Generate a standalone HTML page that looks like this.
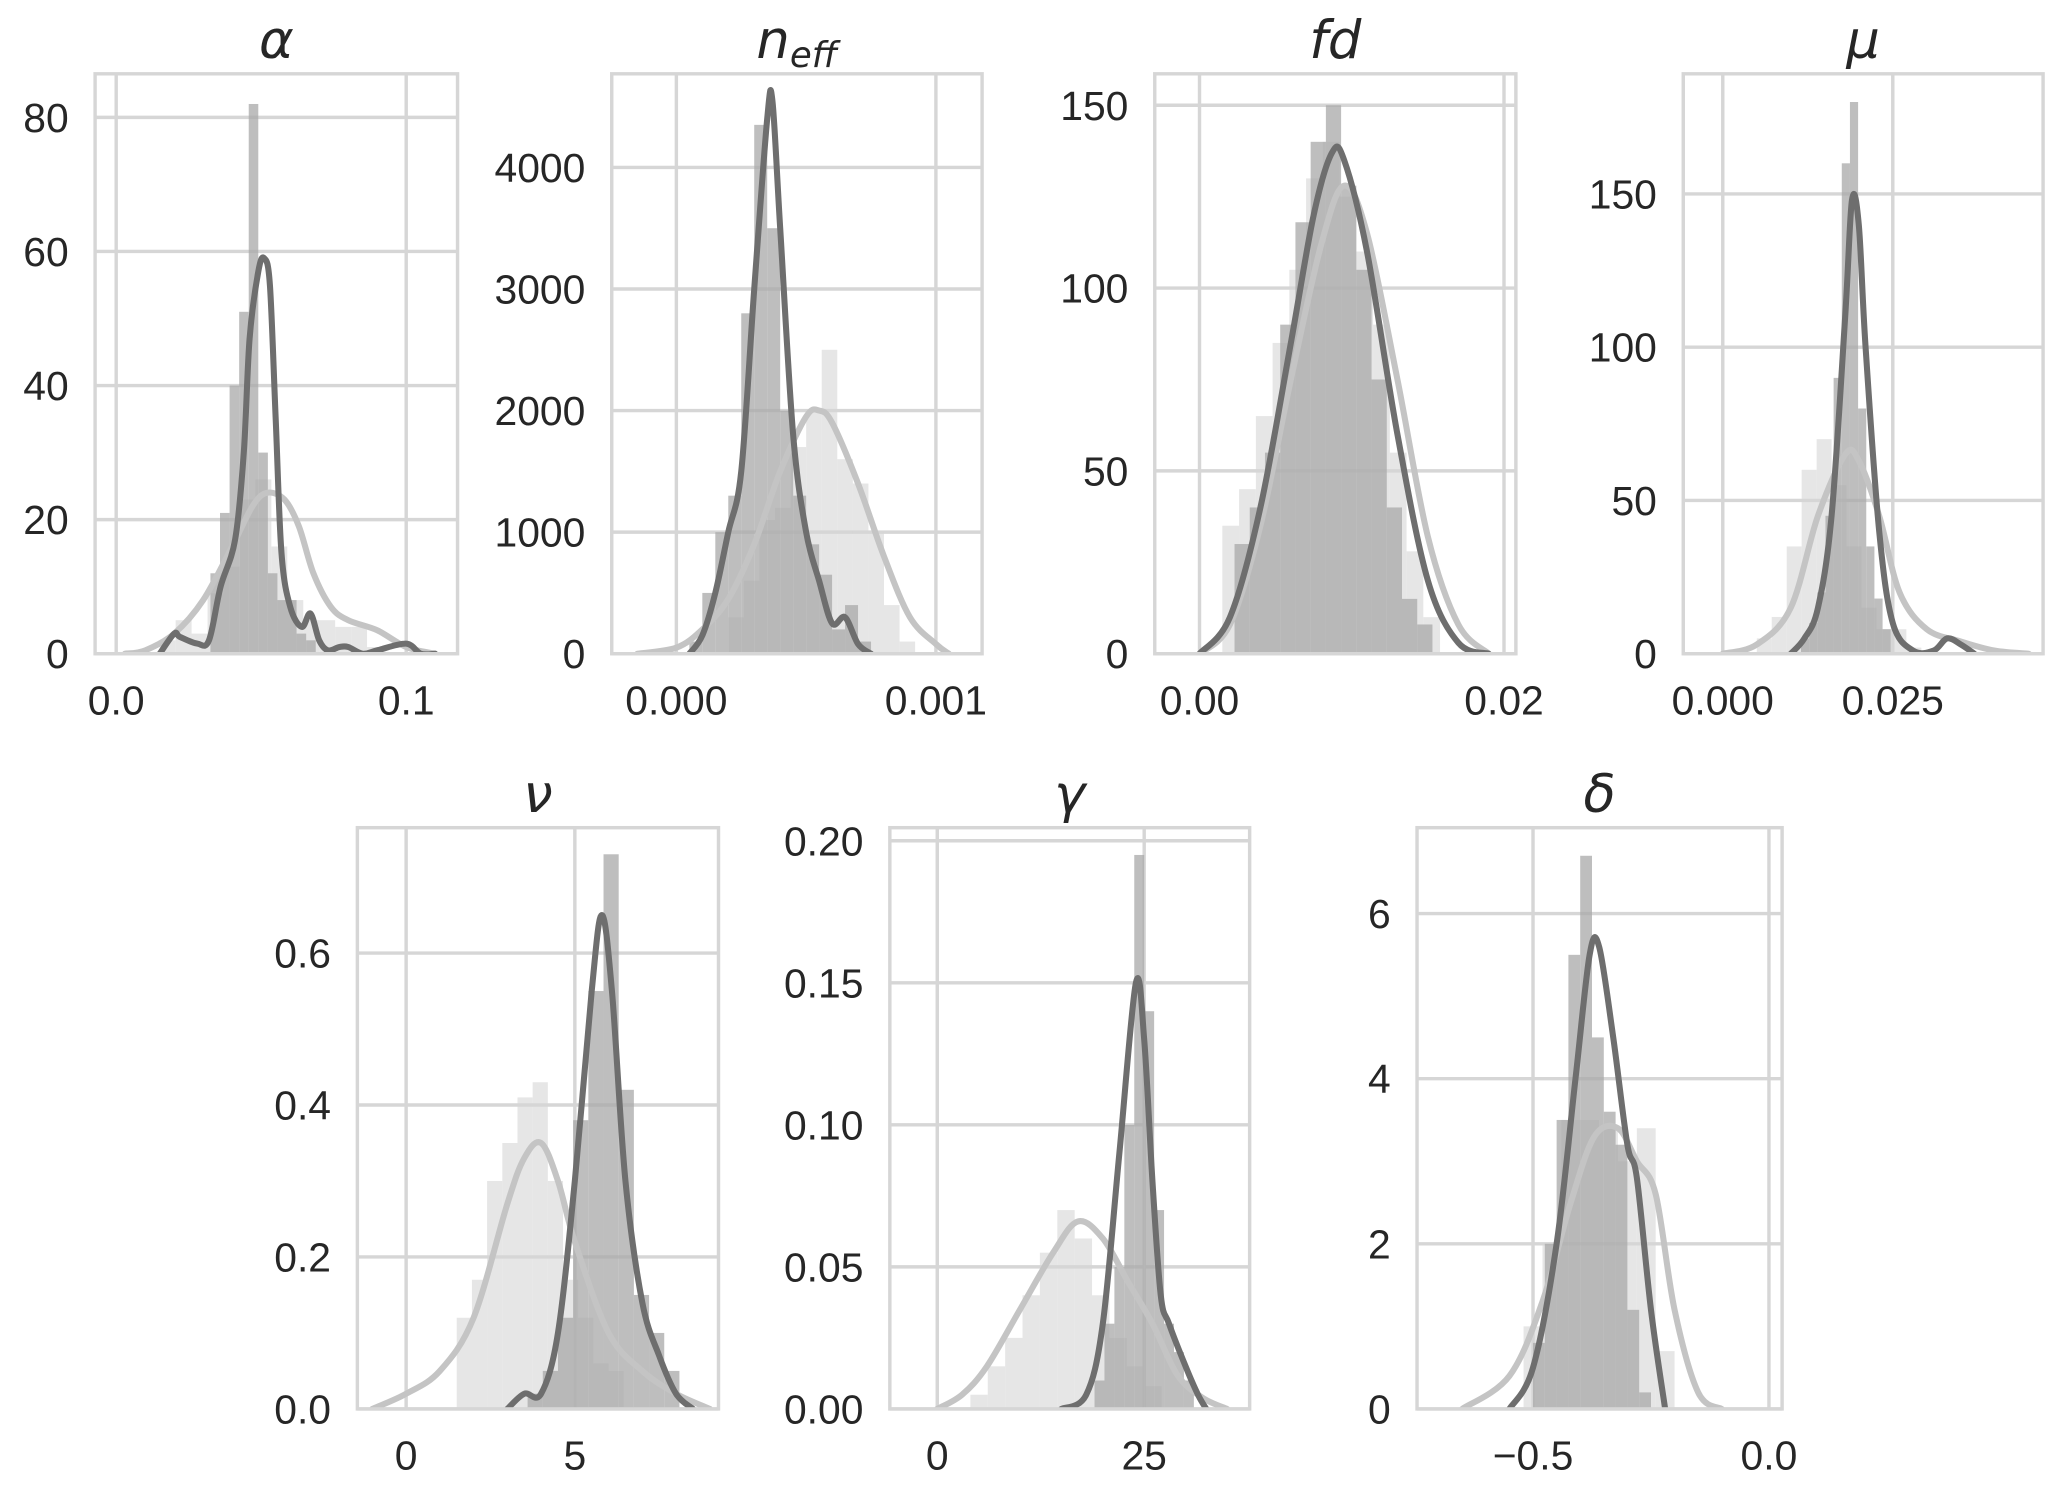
<!DOCTYPE html>
<html><head><meta charset="utf-8">
<style>
html,body{margin:0;padding:0;background:#fff;}
svg{display:block;}
text{font-family:"Liberation Sans","DejaVu Sans",sans-serif;fill:#262626;}
.tt{font-family:"DejaVu Sans","Liberation Sans",sans-serif;font-style:italic;}
</style></head>
<body>
<svg id="fig" width="2067" height="1488" viewBox="0 0 1568 1129" xmlns="http://www.w3.org/2000/svg"></svg>
<script>
// ---- data (per panel) ----
const alphaLightHist = [0.015,0.0055,[2,5,3,9,13,23,26,16,8,5,5,4,4,1]];
const alphaDarkHist = [0.0325,0.0033,[12,21,40,51,82,30,12,8,8,3,2]];
const alphaDarkKdeX = [0.015,0.02,0.022,0.028,0.032,0.036,0.041,0.044,0.046,0.049,0.051,0.053,0.055,0.057,0.06,0.064,0.067,0.07,0.073,0.077,0.08,0.085,0.09,0.1,0.105,0.11];
const alphaDarkKdeY = [0,3,2.5,1.5,2,10,17,30,47,57,59,55,35,15,7,4,6,2,0.5,1,1,0,0.5,1.5,0,0];
const alphaLightKdeX = [0.003,0.01,0.02,0.03,0.04,0.047,0.052,0.058,0.063,0.068,0.074,0.08,0.09,0.1,0.11];
const alphaLightKdeY = [0,0.5,3,8,16,22,24,23,19,12,7,5,3.5,1,0];

const neffLightHist = [0.0002,0.00006,[300,600,1100,1200,1700,2000,2500,1600,1400,1000,400,100]];
const neffDarkHist = [0.00005,0.00005,[100,500,1000,1300,2800,4350,3500,2000,1300,900,650,200,400,100]];
const neffDarkKdeX = [0.00005,0.0001,0.00015,0.0002,0.00025,0.0003,0.00035,0.00037,0.0004,0.00045,0.0005,0.00055,0.0006,0.00065,0.0007,0.00075];
const neffDarkKdeY = [0,150,500,1000,1500,3000,4400,4550,3500,1800,1000,600,250,300,80,0];
const neffLightKdeX = [-0.00015,0,0.0001,0.0002,0.0003,0.0004,0.0005,0.00055,0.0006,0.0007,0.0008,0.0009,0.001,0.00105];
const neffLightKdeY = [0,50,200,450,900,1500,1950,2000,1900,1400,800,300,80,0];

const fdLightHist = [0.0015,0.0011,[35,45,65,85,105,130,140,125,110,90,55,28,10]];
const fdDarkHist = [0.0023,0.001,[30,40,55,90,118,140,150,128,105,75,40,15,8]];
const fdDarkKdeX = [0,0.002,0.004,0.006,0.0075,0.0087,0.0095,0.011,0.013,0.015,0.017,0.019];
const fdDarkKdeY = [0,10,40,85,120,137,135,110,60,20,3,0];
const fdLightKdeX = [0,0.002,0.004,0.006,0.008,0.0095,0.011,0.013,0.015,0.017,0.019];
const fdLightKdeY = [0,8,35,75,112,128,115,75,32,8,0];

const muLightHist = [0.005,0.0022,[5,12,35,60,70,55,35,15,8,8,2]];
const muDarkHist = [0.0115,0.0012,[5,10,20,45,90,160,180,80,35,18,8]];
const muDarkKdeX = [0.01,0.012,0.014,0.016,0.018,0.019,0.02,0.021,0.023,0.025,0.028,0.031,0.033,0.035,0.037];
const muDarkKdeY = [0,5,15,45,110,148,140,100,40,10,1,1,5,3,0];
const muLightKdeX = [0,0.005,0.01,0.014,0.018,0.02,0.023,0.026,0.03,0.035,0.04,0.045];
const muLightKdeY = [0,3,15,45,65,63,45,20,8,4,1,0];

const nuLightHist = [1.5,0.45,[0.12,0.17,0.3,0.35,0.41,0.43,0.3,0.17,0.12,0.06,0.05]];
const nuDarkHist = [3.6,0.45,[0.02,0.05,0.12,0.38,0.55,0.73,0.42,0.15,0.1,0.05]];
const nuDarkKdeX = [3,3.5,4,4.5,5,5.5,5.8,6.1,6.5,7,7.5,8,8.5];
const nuDarkKdeY = [0,0.02,0.02,0.1,0.3,0.55,0.65,0.55,0.3,0.14,0.07,0.02,0];
const nuLightKdeX = [-1,0,1,2,3,3.5,4,4.5,5,6,7,8,9];
const nuLightKdeY = [0,0.02,0.05,0.12,0.27,0.33,0.35,0.3,0.22,0.1,0.05,0.02,0];

const gammaLightHist = [4,2.1,[0.005,0.015,0.025,0.04,0.055,0.07,0.06,0.04,0.025,0.015,0.008]];
const gammaDarkHist = [19,1.2,[0.01,0.03,0.05,0.10,0.195,0.14,0.07,0.03,0.02,0.01]];
const gammaDarkKdeX = [15,18,20,22,24,25,26,27,28,30,31.5,32.5];
const gammaDarkKdeY = [0,0.005,0.03,0.09,0.15,0.13,0.08,0.04,0.03,0.015,0.005,0];
const gammaLightKdeX = [0,3,6,10,14,17,20,23,26,29,32,35];
const gammaLightKdeY = [0,0.005,0.015,0.035,0.055,0.066,0.06,0.045,0.03,0.012,0.004,0];

const deltaLightHist = [-0.52,0.04,[1,2,3.5,3.5,3.4,3,3.4,0.7]];
const deltaDarkHist = [-0.5,0.025,[0.8,2,3.5,5.5,6.7,4.5,3.6,3.2,1.2,0.2]];
const deltaDarkKdeX = [-0.55,-0.5,-0.45,-0.41,-0.38,-0.36,-0.33,-0.3,-0.28,-0.25,-0.22];
const deltaDarkKdeY = [0,0.5,2,4,5.5,5.6,4.5,3.2,2.8,1.2,0];
const deltaLightKdeX = [-0.65,-0.55,-0.48,-0.42,-0.37,-0.32,-0.28,-0.24,-0.2,-0.15,-0.1];
const deltaLightKdeY = [0,0.4,1.3,2.5,3.3,3.4,3,2.6,1.2,0.2,0];

const alphaYTicks=[0,20,40,60,80], alphaXTicks=[0,0.1], alphaXLabels=["0.0","0.1"];
const neffYTicks=[0,1000,2000,3000,4000], neffXTicks=[0,0.001], neffXLabels=["0.000","0.001"];
const fdYTicks=[0,50,100,150], fdXTicks=[0,0.02], fdXLabels=["0.00","0.02"];
const muYTicks=[0,50,100,150], muXTicks=[0,0.025], muXLabels=["0.000","0.025"];
const nuYTicks=[0,0.2,0.4,0.6], nuYLabels=["0.0","0.2","0.4","0.6"], nuXTicks=[0,5], nuXLabels=["0","5"];
const gammaYTicks=[0,0.05,0.1,0.15,0.2], gammaYLabels=["0.00","0.05","0.10","0.15","0.20"], gammaXTicks=[0,25], gammaXLabels=["0","25"];
const deltaYTicks=[0,2,4,6], deltaXTicks=[-0.5,0], deltaXLabels=["\u22120.5","0.0"];

const panels = [
 {name:'alpha',title:'α',box:[72,56,347,496],xd:[-0.00727,0.1177],yd:[0,86.5],lh:alphaLightHist,dh:alphaDarkHist,dk:[alphaDarkKdeX,alphaDarkKdeY],lk:[alphaLightKdeX,alphaLightKdeY],yt:alphaYTicks,xt:alphaXTicks,xl:alphaXLabels},
 {name:'neff',title:'n',sub:'eff',box:[464,56,745,496],xd:[-0.000249,0.001178],yd:[0,4770],lh:neffLightHist,dh:neffDarkHist,dk:[neffDarkKdeX,neffDarkKdeY],lk:[neffLightKdeX,neffLightKdeY],yt:neffYTicks,xt:neffXTicks,xl:neffXLabels},
 {name:'fd',title:'fd',box:[876,56,1150,496],xd:[-0.00294,0.02078],yd:[0,158.6],lh:fdLightHist,dh:fdDarkHist,dk:[fdDarkKdeX,fdDarkKdeY],lk:[fdLightKdeX,fdLightKdeY],yt:fdYTicks,xt:fdXTicks,xl:fdXLabels},
 {name:'mu',title:'μ',box:[1277,56,1550,496],xd:[-0.00581,0.0471],yd:[0,189.2],lh:muLightHist,dh:muDarkHist,dk:[muDarkKdeX,muDarkKdeY],lk:[muLightKdeX,muLightKdeY],yt:muYTicks,xt:muXTicks,xl:muXLabels},
 {name:'nu',title:'ν',box:[271,628,545,1069],xd:[-1.445,9.258],yd:[0,0.765],lh:nuLightHist,dh:nuDarkHist,dk:[nuDarkKdeX,nuDarkKdeY],lk:[nuLightKdeX,nuLightKdeY],yt:nuYTicks,ytl:nuYLabels,xt:nuXTicks,xl:nuXLabels},
 {name:'gamma',title:'γ',box:[675,628,948,1069],xd:[-5.73,37.74],yd:[0,0.2046],lh:gammaLightHist,dh:gammaDarkHist,dk:[gammaDarkKdeX,gammaDarkKdeY],lk:[gammaLightKdeX,gammaLightKdeY],yt:gammaYTicks,ytl:gammaYLabels,xt:gammaXTicks,xl:gammaXLabels},
 {name:'delta',title:'δ',box:[1075,628,1352,1069],xd:[-0.7458,0.0279],yd:[0,7.04],lh:deltaLightHist,dh:deltaDarkHist,dk:[deltaDarkKdeX,deltaDarkKdeY],lk:[deltaLightKdeX,deltaLightKdeY],yt:deltaYTicks,xt:deltaXTicks,xl:deltaXLabels}
];

const NS='http://www.w3.org/2000/svg';
const svg=document.getElementById('fig');
function mk(tag,attrs,parent){const e=document.createElementNS(NS,tag);for(const k in attrs)e.setAttribute(k,attrs[k]);parent.appendChild(e);return e;}
function smooth(pts){
  let d='M'+pts[0][0].toFixed(2)+','+pts[0][1].toFixed(2);
  for(let i=0;i<pts.length-1;i++){
    const p0=pts[Math.max(0,i-1)],p1=pts[i],p2=pts[i+1],p3=pts[Math.min(pts.length-1,i+2)];
    const c1=[p1[0]+(p2[0]-p0[0])/6,p1[1]+(p2[1]-p0[1])/6];
    const c2=[p2[0]-(p3[0]-p1[0])/6,p2[1]-(p3[1]-p1[1])/6];
    d+=' C'+c1.map(v=>v.toFixed(2)).join(',')+' '+c2.map(v=>v.toFixed(2)).join(',')+' '+p2.map(v=>v.toFixed(2)).join(',');
  }
  return d;
}
panels.forEach(p=>{
  const [x0,y0,x1,y1]=p.box;
  const sx=v=>x0+(v-p.xd[0])/(p.xd[1]-p.xd[0])*(x1-x0);
  const sy=v=>y1-(v-p.yd[0])/(p.yd[1]-p.yd[0])*(y1-y0);
  const g=mk('g',{},svg);
  
  
  const clipId='clip-'+p.name;
  const cp=mk('clipPath',{id:clipId},g); mk('rect',{x:x0,y:y0,width:x1-x0,height:y1-y0},cp);
  p.yt.forEach((v,i)=>{
    const l=mk('line',{x1:x0,x2:x1,y1:sy(v),y2:sy(v),stroke:'#d6d6d6','stroke-width':2.6},g);
    
    
    const t=mk('text',{x:x0-20,y:sy(v)+11,'text-anchor':'end','font-size':31},g);
    t.textContent=p.ytl?p.ytl[i]:String(v);
    
    
  });
  p.xt.forEach((v,i)=>{
    const l=mk('line',{x1:sx(v),x2:sx(v),y1:y0,y2:y1,stroke:'#d6d6d6','stroke-width':2.6},g);
    
    
    const t=mk('text',{x:sx(v),y:y1+46,'text-anchor':'middle','font-size':31},g);
    t.textContent=p.xl[i];
    
    
  });
  const inner=mk('g',{'clip-path':'url(#'+clipId+')'},g);
  [[p.lh,'#d6d6d6',0.6,'light-hist-bar'],[p.dh,'#a8a8a8',0.75,'dark-hist-bar']].forEach(([h,c,o,nm])=>{
    const [start,w,hs]=h;
    hs.forEach((v,i)=>{
      const xa=sx(start+i*w), xb=sx(start+(i+1)*w);
      const r=mk('rect',{x:xa,y:sy(v),width:xb-xa,height:y1-sy(v),fill:c,'fill-opacity':o},inner);
      
      
    });
  });
  [[p.lk,'#c4c4c4','light-kde-line'],[p.dk,'#6e6e6e','dark-kde-line']].forEach(([k,c,nm])=>{
    const pts=k[0].map((x,i)=>[sx(x),sy(k[1][i])]);
    const path=mk('path',{d:smooth(pts),fill:'none',stroke:c,'stroke-width':4.6,'stroke-linejoin':'round','stroke-linecap':'round'},inner);
    
    
  });
  const fr=mk('rect',{x:x0,y:y0,width:x1-x0,height:y1-y0,fill:'none',stroke:'#d6d6d6','stroke-width':2.6},g);
  
  
  const tt=mk('text',{x:(x0+x1)/2,y:y0-12,'text-anchor':'middle','font-size':40,'class':'tt'},g);
  
  
  tt.textContent=p.title;
  if(p.sub){const s=mk('tspan',{'font-size':27,dy:7},tt);s.textContent=p.sub;}
});
</script>
</body></html>
